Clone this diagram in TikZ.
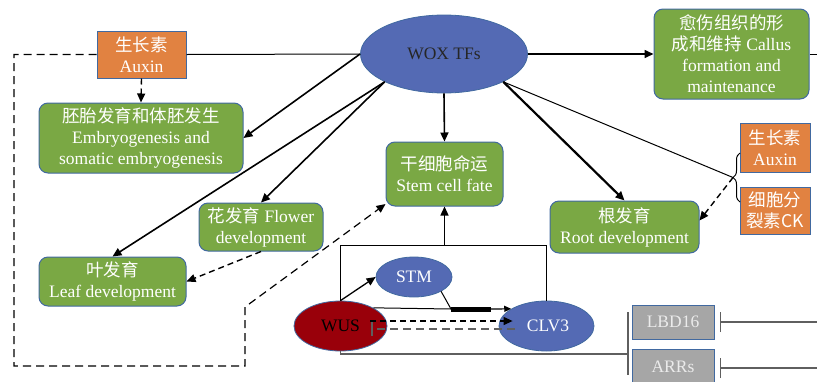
\documentclass[tikz,border=0pt]{standalone}
\usepackage{fontspec}
\setmainfont{Liberation Serif}
\newfontfamily\cjk{Noto Sans CJK SC}
\usetikzlibrary{arrows.meta,shapes.geometric,decorations.pathreplacing}
\tikzset{>={Triangle[length=9pt,width=8pt]}}
\definecolor{procgreen}{RGB}{122,168,68}
\definecolor{edgeblue}{RGB}{65,105,160}
\definecolor{woxblue}{RGB}{84,106,180}
\definecolor{auxorange}{RGB}{225,130,65}
\definecolor{wusred}{RGB}{153,0,10}
\definecolor{boxgrey}{RGB}{166,166,166}
\definecolor{linegrey}{RGB}{95,95,95}
\tikzset{
  proc/.style={draw=edgeblue, fill=procgreen, rounded corners=9pt, text=white, align=center, inner sep=0pt, line width=1pt},
  hormone/.style={draw=edgeblue, fill=auxorange, text=white, align=center, inner sep=0pt, line width=1pt},
  gene/.style={ellipse, draw=edgeblue, fill=woxblue, text=white, inner sep=0pt, line width=0.8pt},
  target/.style={draw=edgeblue, fill=boxgrey, text=white!92!black, inner sep=0pt, line width=1pt},
  link/.style={->, line width=1.6pt},
  dashlink/.style={->, line width=1.4pt, dash pattern=on 6pt off 4pt},
  plain/.style={line width=1pt},
  inhib/.style={-{Bar[width=20pt,line width=1.2pt]}, line width=1.4pt, linegrey},
}

\begin{document}
\begin{tikzpicture}[x=1pt, y=-1pt, font=\fontsize{17.5}{21}\selectfont]
    \clip (0,0) rectangle (817,381);
    \node[gene, minimum width=167pt, minimum height=78pt, text=black!85] (wox) at (444,54) {WOX TFs};
    \node[hormone, minimum width=89pt, minimum height=47pt] (auxa) at (141.5,54.5) {{\cjk 生长素}\\Auxin};
    \node[proc, minimum width=204pt, minimum height=70pt] (embryo) at (141,138) {{\cjk 胚胎发育和体胚发生}\\Embryogenesis and\\somatic embryogenesis};
    \node[proc, minimum width=155pt, minimum height=90pt] (callus) at (731.5,54) {{\cjk 愈伤组织的形}\\{\cjk 成和维持} Callus\\formation and\\maintenance};
    \node[proc, minimum width=117pt, minimum height=64pt] (stem) at (444.5,174) {{\cjk 干细胞命运}\\Stem cell fate};
    \node[proc, minimum width=124pt, minimum height=48pt] (flower) at (261,227) {{\cjk 花发育} Flower\\development};
    \node[proc, minimum width=147pt, minimum height=49pt] (leaf) at (112.5,281.5) {{\cjk 叶发育}\\Leaf development};
    \node[proc, minimum width=149pt, minimum height=52pt] (root) at (624.5,227) {{\cjk 根发育}\\Root development};
    \node[hormone, minimum width=70pt, minimum height=49pt] (auxb) at (775,147.5) {{\cjk 生长素}\\Auxin};
    \node[hormone, minimum width=70pt, minimum height=47pt] (ck) at (775,210.5) {{\cjk 细胞分}\\{\cjk 裂素CK}};
    \node[gene, minimum width=76pt, minimum height=40pt] (stm) at (414,277) {STM};
    \node[gene, fill=wusred, minimum width=93pt, minimum height=50pt, text=black] (wus) at (340.5,326) {WUS\hspace{8pt}};
    \node[gene, minimum width=95pt, minimum height=50pt] (clv) at (546.5,326) {\hspace{3pt}CLV3};
    \node[target, minimum width=82pt, minimum height=34pt] (lbd) at (673,322) {LBD16};
    \node[target, minimum width=82pt, minimum height=36pt] (arr) at (673,367) {ARRs};

    \coordinate (l1) at (14,54.5);
    \coordinate (l2) at (14,366);
    \coordinate (l3) at (245,366);
    \coordinate (l4) at (245,307);
    \coordinate (tip) at (733,177.5);
    \coordinate (top) at (444.5,245);
    \coordinate (barL) at (451,309);
    \coordinate (barR) at (491,309);
    \coordinate (brk) at (628,354);
    \coordinate (brkT) at (628,312);
    \coordinate (brkB) at (628,375);
    \coordinate (edgeC) at (817,54);
    \coordinate (edgeL) at (817,322);
    \coordinate (edgeA) at (817,368);

    \draw[plain] (auxa.east) -- (wox.west);
    \draw[dashlink, line width=1.2pt, dash pattern=on 8pt off 5pt] (auxa.west) -- (l1) -- (l2) -- (l3) -- (l4) -- (stem.207);
    \draw[dashlink] (auxa.south) -- (embryo.north);
    \draw[link] (wox.west) -- (embryo.east);
    \draw[link] (wox.south west) -- (leaf.north);
    \draw[link] (wox.south west) -- (flower.north);
    \draw[link] (wox.south) -- (stem.north);
    \draw[link] (wox.east) -- (callus.west);
    \draw[plain] (callus.east) -- (edgeC);
    \draw[link, line width=2.2pt] (wox.south east) -- (root.north);
    \draw[plain] (wox.south east) -- (tip);
    \draw[plain, decorate, decoration={brace, amplitude=7pt}] (740,202) -- (740,153);
    \draw[dashlink] (tip) -- (root.5);
    \draw[dashlink] (flower.south) -- (leaf.east);

    \draw[plain] (wus.north) -- (wus.north |- top) -- (clv.north |- top) -- (clv.north);
    \draw[link, line width=1.3pt] (top) -- (stem.south);
    \draw[link, line width=1.3pt] (wus.north) -- (stm.west);
    \draw[plain] (wus.29) -- (barL);
    \draw[plain] (stm.south east) -- (barL);
    \draw[line width=5pt] (barL) -- (barR);
    \draw[-{Triangle[length=7pt,width=6pt]}, line width=1.2pt] (barR) -- (clv.154);
    \draw[dashlink, line width=1.2pt] ([xshift=-17pt,yshift=5pt]wus.east) -- ([xshift=14pt,yshift=5pt]clv.west);
    \draw[-{Bar[width=14pt,line width=1.2pt]}, linegrey, line width=1.2pt, dash pattern=on 8pt off 5pt] ([xshift=16pt,yshift=-3pt]clv.west) -- ([xshift=-16pt,yshift=-3pt]wus.east);

    \draw[plain, linegrey, line width=1.2pt] (wus.south) |- (brk);
    \draw[linegrey, line width=1.4pt] (brkT) -- (brkB);
    \draw[inhib] (edgeL) -- ([xshift=5pt]lbd.east);
    \draw[inhib] (edgeA) -- ([xshift=5pt]arr.east |- edgeA);
\end{tikzpicture}
\end{document}
